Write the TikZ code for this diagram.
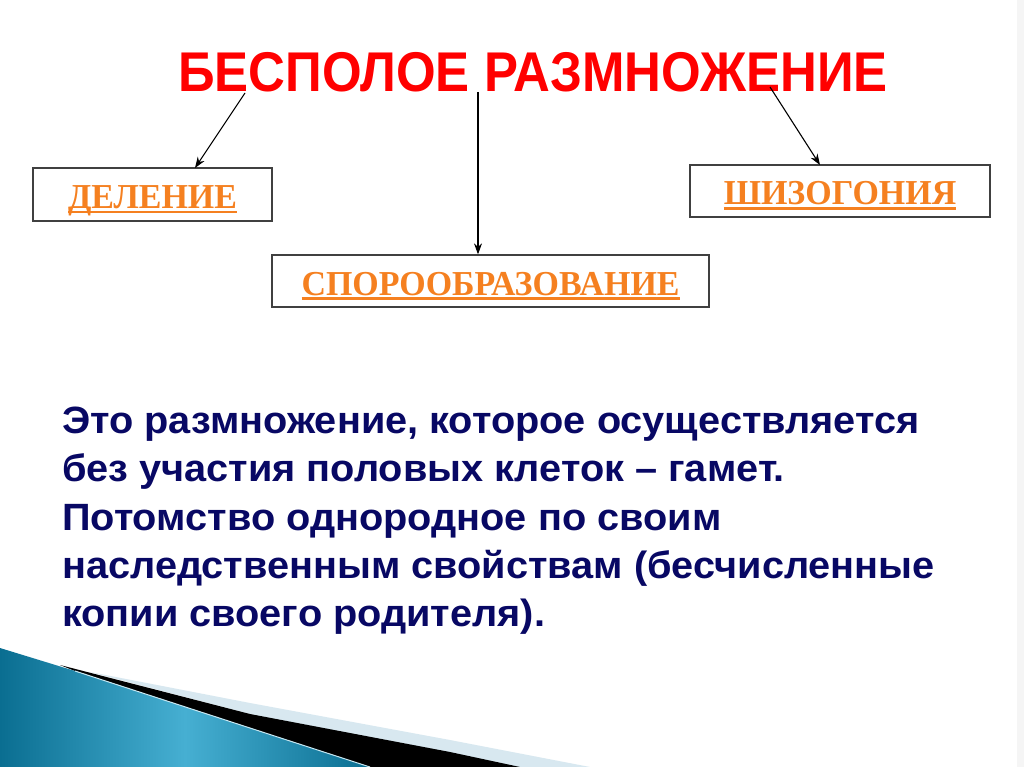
\documentclass[tikz,border=0pt]{standalone}
\usepackage{fontspec}
\setmainfont{Liberation Sans}
\newfontfamily\serifbf{Liberation Serif}
\usetikzlibrary{arrows.meta}
\definecolor{titlered}{RGB}{255,0,0}
\definecolor{labelorange}{RGB}{245,128,32}
\definecolor{bodynavy}{RGB}{8,8,100}
\definecolor{boxframe}{RGB}{64,64,64}
\definecolor{tealdark}{RGB}{10,110,145}
\definecolor{teallight}{RGB}{70,175,210}
\definecolor{palestripe}{RGB}{216,232,240}
\newcommand\orul[1]{\setbox0\hbox{#1}\rlap{\rule[-5pt]{\wd0}{2.6pt}}\box0}
\tikzset{
  labelbox/.style={draw=boxframe, line width=1.3pt, fill=white, inner sep=0pt,
    text height=32pt, text depth=4pt,
    font=\serifbf\bfseries\fontsize{35}{38}\selectfont, text=labelorange},
  bodyline/.style={anchor=base west, inner sep=0pt, text=bodynavy,
    font=\bfseries\fontsize{38}{42}\selectfont},
  conn/.style={draw=black, line width=1.1pt, -{Stealth[length=11pt,width=8pt]}}
}
\begin{document}
\begin{tikzpicture}[x=1pt,y=-1pt]
\useasboundingbox (0,0) rectangle (1024,767);
\fill[white] (0,0) rectangle (1024,767);
\fill[black!4] (1017,0) rectangle (1024,767);

% bottom-left decoration
\fill[palestripe] (90,672) -- (250,703) -- (450,740) -- (590,767) -- (500,767) -- (250,714) -- cycle;
\fill[black] (60,665) -- (250,714) -- (450,752) -- (520,767) -- (370,767) -- (250,728) -- (75,671) -- cycle;
\shade[left color=tealdark, right color=tealdark, middle color=teallight]
  (0,648) -- (75,671) -- (250,728) -- (370,767) -- (0,767) -- cycle;
\draw[white!70!teallight, line width=1pt] (75,671) -- (250,728) -- (370,767);

% title
\node[inner sep=0pt, text=titlered, font=\bfseries\fontsize{56}{60}\selectfont]
  (title) at (533,72) {\scalebox{0.91}[1]{БЕСПОЛОЕ РАЗМНОЖЕНИЕ}};

% boxes
\node[labelbox, minimum width=239pt, minimum height=53pt] (del) at (152.5,194.5) {\scalebox{0.97}[1]{\orul{ДЕЛЕНИЕ}}};
\node[labelbox, minimum width=300pt, minimum height=52pt] (shi) at (840,191) {\scalebox{0.97}[1]{\orul{ШИЗОГОНИЯ}}};
\node[labelbox, minimum width=437pt, minimum height=52pt] (spo) at (490.5,281) {\scalebox{0.97}[1]{\orul{СПОРООБРАЗОВАНИЕ}}};

% connectors
\coordinate (s1) at (245,93);
\coordinate (s2) at (478,92);
\coordinate (s3) at (770,87);
\coordinate (e1) at (195,168);
\coordinate (e3) at (820,165);
\draw[conn] (s1) -- (e1);
\draw[conn] (s2) -- (s2 |- spo.north);
\draw[conn] (s3) -- (e3);

% body text
\node[bodyline] (l1) at (62,433) {\scalebox{1.045}[1]{Это размножение, которое осуществляется}};
\node[bodyline] (l2) at (62,481) {\scalebox{1.045}[1]{без участия половых клеток – гамет.}};
\node[bodyline] (l3) at (62,530) {\scalebox{1.045}[1]{Потомство однородное по своим}};
\node[bodyline] (l4) at (62,578) {\scalebox{1.045}[1]{наследственным свойствам (бесчисленные}};
\node[bodyline] (l5) at (62,626) {\scalebox{1.045}[1]{копии своего родителя).}};
\end{tikzpicture}
\end{document}
